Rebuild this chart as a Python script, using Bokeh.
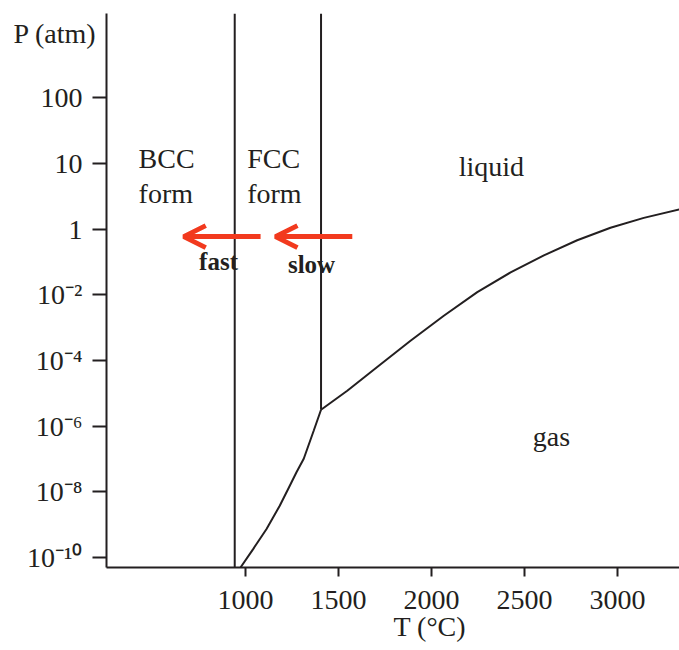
from bokeh.plotting import figure
from bokeh.models import Range1d, FixedTicker, Label, Arrow, OpenHead, Title
from bokeh.embed import file_html
from bokeh.resources import INLINE

# ---- data (temperature in deg C, pressure as log10(P / atm)) ----
tick_T = [1000, 1500, 2000, 2500, 3000]
tick_logP = [-10, -8, -6, -4, -2, 0, 1, 2]
tick_labels = ["10⁻¹⁰", "10⁻⁸", "10⁻⁶", "10⁻⁴", "10⁻²", "1", "10", "100"]

# solid (FCC) - gas boundary
T_sub = [973, 1041, 1113, 1184, 1238, 1274, 1313, 1367, 1406]
logP_sub = [-10.30, -9.74, -9.13, -8.42, -7.81, -7.40, -6.99, -6.13, -5.5]

# liquid - gas boundary
T_vap = [1406, 1547, 1708, 1887, 2066, 2246, 2425, 2604, 2783, 2962, 3141, 3333]
logP_vap = [-5.5, -4.92, -4.20, -3.40, -2.64, -1.92, -1.32, -0.80, -0.34, 0.02, 0.17, 0.30]

T_bcc_fcc = 942
T_fcc_delta = 1406
logP_triple = -5.5

T_min, T_max = 252.7, 3333.0
logP_min, logP_max = -10.3, 3.28


def pos(lp):
    # the pressure axis: one decade per tick above 1 atm, two decades per tick below
    return 5 + lp if lp >= 0 else 5 + lp / 2.0


INK = "#231f20"
RED = "#f23a1e"
FONT = "Liberation Serif"

p = figure(width=679, height=650, output_backend="svg", toolbar_location=None,
           x_range=Range1d(T_min, T_max), y_range=Range1d(pos(logP_min), pos(logP_max)),
           min_border_left=106, min_border_right=0, min_border_top=13, min_border_bottom=83)
p.outline_line_color = None
p.xgrid.visible = False
p.ygrid.visible = False
p.background_fill_color = "white"
p.border_fill_color = "white"

# axes
p.xaxis.ticker = FixedTicker(ticks=tick_T)
p.yaxis.ticker = FixedTicker(ticks=[pos(v) for v in tick_logP])
p.yaxis.major_label_overrides = {pos(v): lab for v, lab in zip(tick_logP, tick_labels)}
for ax in (p.xaxis, p.yaxis):
    ax.axis_line_color = INK
    ax.axis_line_width = 2
    ax.major_tick_line_color = INK
    ax.major_tick_line_width = 2
    ax.major_tick_in = 0
    ax.minor_tick_line_color = None
    ax.major_label_text_font = FONT
    ax.major_label_text_font_size = "28px"
    ax.major_label_text_color = INK
p.xaxis.major_tick_out = 9
p.xaxis.major_label_standoff = 14
p.yaxis.major_tick_out = 14
p.yaxis.major_label_standoff = 10

# axis titles
p.add_layout(Title(text="T (°C)", align="left", offset=287, standoff=-4,
                   vertical_align="middle", text_font=FONT, text_font_size="28px",
                   text_font_style="normal", text_color=INK), "below")
p.add_layout(Title(text="P (atm)", align="left", offset=-93, standoff=-70,
                   text_font=FONT, text_font_size="28px",
                   text_font_style="normal", text_color=INK), "above")

# phase boundaries
p.segment(x0=[T_bcc_fcc, T_fcc_delta], y0=[pos(logP_min), pos(logP_triple)],
          x1=[T_bcc_fcc, T_fcc_delta], y1=[pos(logP_max), pos(logP_max)],
          line_color=INK, line_width=2)
p.line(T_sub, [pos(v) for v in logP_sub], line_color=INK, line_width=2)
p.line(T_vap, [pos(v) for v in logP_vap], line_color=INK, line_width=2)

# arrows
y_arrow = pos(-0.23)
for xs, xe in [(1081, 668), (1574, 1161)]:
    p.add_layout(Arrow(x_start=xs, y_start=y_arrow, x_end=xe, y_end=y_arrow,
                       line_color=RED, line_width=5,
                       end=OpenHead(size=22, line_color=RED, line_width=5)))


def lab(x, lp, text, size="28px", align="left", style="normal"):
    p.add_layout(Label(x=x, y=pos(lp), text=text, text_font=FONT, text_font_size=size,
                       text_align=align, text_baseline="alphabetic", y_offset=9,
                       text_font_style=style, text_color=INK))


lab(425, 0.94, "BCC")
lab(425, 0.41, "form")
lab(1009, 0.94, "FCC")
lab(1009, 0.41, "form")
lab(2322, 0.81, "liquid", align="center")
lab(2645, -6.59, "gas", align="center")
lab(855, -1.26, "fast", size="25px", align="center", style="bold")
lab(1355, -1.35, "slow", size="25px", align="center", style="bold")

open("out.html", "w").write(file_html(p, INLINE))
